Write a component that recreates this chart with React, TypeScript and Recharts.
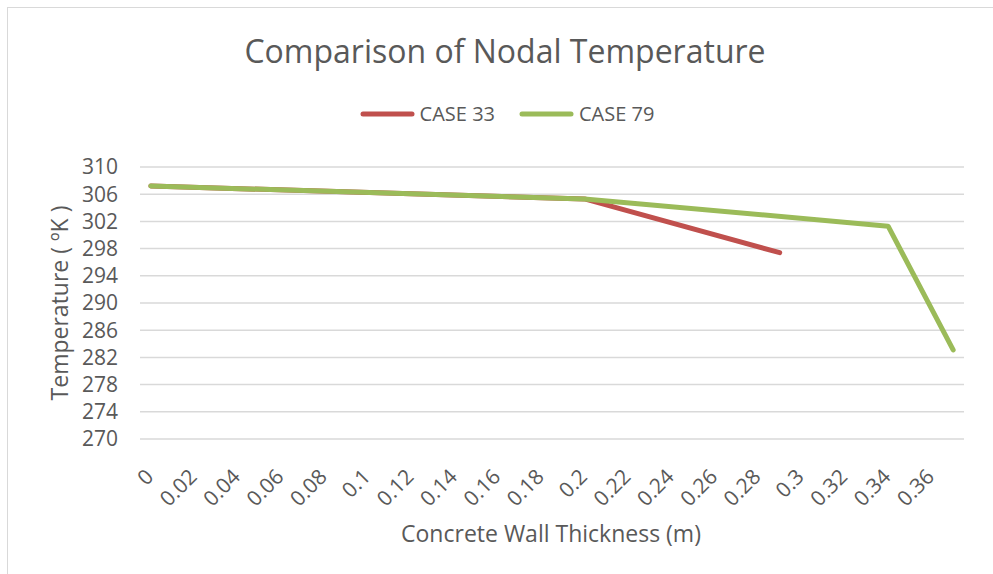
import { LineChart, Line, XAxis, YAxis, CartesianGrid, Label } from 'recharts'

// Wall thickness (m) and nodal temperature (K)
const xTicks = [0, 0.02, 0.04, 0.06, 0.08, 0.1, 0.12, 0.14, 0.16, 0.18, 0.2, 0.22, 0.24, 0.26, 0.28, 0.3, 0.32, 0.34, 0.36]
const yTicks = [270, 274, 278, 282, 286, 290, 294, 298, 302, 306, 310]

const case33X = [0, 0.2, 0.29]
const case33T = [307.2, 305.3, 297.4]

const case79X = [0, 0.2, 0.34, 0.37]
const case79T = [307.2, 305.3, 301.3, 283.1]

const toPoints = (xs: number[], ts: number[]) => xs.map((x, i) => ({ x, t: ts[i] }))

const series = [
  { name: 'CASE 33', color: '#C0504D', data: toPoints(case33X, case33T) },
  { name: 'CASE 79', color: '#9BBB59', data: toPoints(case79X, case79T) },
]

const TEXT = '#595959'
const FONT = '"Open Sans", sans-serif'

const XTick = ({ x, y, payload }: { x?: number; y?: number; payload?: { value: number } }) => {
  const tx = (x ?? 0) + 4
  const ty = (y ?? 0) + 31
  return (
    <text
      x={tx}
      y={ty}
      transform={`rotate(-45 ${tx} ${ty})`}
      textAnchor="end"
      fill={TEXT}
      fontSize={21}
      fontFamily={FONT}
    >
      {String(payload?.value)}
    </text>
  )
}

export default function App() {
  return (
    <div style={{ position: 'absolute', left: 0, top: 0, width: 993, height: 574, background: '#fff', fontFamily: FONT }}>
      <div
        style={{
          position: 'absolute', left: 7, top: 7, right: 0, bottom: 0,
          borderLeft: '1px solid #D9D9D9', borderTop: '1px solid #D9D9D9',
        }}
      />
      <svg width={993} height={140} style={{ position: 'absolute', left: 0, top: 0 }}>
        <text x={505} y={63} textAnchor="middle" fill={TEXT} fontSize={32} fontFamily={FONT}>
          Comparison of Nodal Temperature
        </text>
      </svg>

      {/* legend */}
      <div
        style={{
          position: 'absolute', left: 0, top: 101, width: 1014, display: 'flex',
          justifyContent: 'center', gap: 24, color: TEXT, fontSize: 20, lineHeight: '26px',
        }}
      >
        {series.map((s) => (
          <div key={s.name} style={{ display: 'flex', alignItems: 'center', gap: 5 }}>
            <svg width={55} height={8}>
              <line x1={3} y1={4} x2={52} y2={4} stroke={s.color} strokeWidth={5} strokeLinecap="round" />
            </svg>
            <span>{s.name}</span>
          </div>
        ))}
      </div>

      <div style={{ position: 'absolute', left: 0, top: 0 }}>
        <LineChart width={993} height={574} margin={{ top: 167, right: 29, bottom: 0, left: 60 }}>
          <CartesianGrid vertical={false} stroke="#D9D9D9" strokeWidth={1.5} />
          <XAxis
            type="number"
            dataKey="x"
            domain={[-0.005, 0.375]}
            ticks={xTicks}
            interval={0}
            allowDataOverflow
            axisLine={false}
            tickLine={false}
            height={135}
            tick={<XTick />}
          >
            <Label
              content={() => (
                <text x={551} y={542} textAnchor="middle" fill={TEXT} fontSize={23} fontFamily={FONT}>
                  Concrete Wall Thickness (m)
                </text>
              )}
            />
          </XAxis>
          <YAxis
            type="number"
            domain={[270, 310]}
            ticks={yTicks}
            interval={0}
            axisLine={false}
            tickLine={false}
            tickSize={0}
            tickMargin={22}
            width={80}
            tick={{ fill: TEXT, fontSize: 21, fontFamily: FONT }}
          >
            <Label
              content={() => (
                <text
                  x={68}
                  y={303}
                  transform="rotate(-90 68 303)"
                  textAnchor="middle"
                  fill={TEXT}
                  fontSize={23}
                  fontFamily={FONT}
                >
                  Temperature ( ºK )
                </text>
              )}
            />
          </YAxis>
          {series.map((s) => (
            <Line
              key={s.name}
              data={s.data}
              dataKey="t"
              name={s.name}
              type="linear"
              stroke={s.color}
              strokeWidth={5}
              strokeLinecap="round"
              strokeLinejoin="round"
              dot={false}
              activeDot={false}
              isAnimationActive={false}
            />
          ))}
        </LineChart>
      </div>
    </div>
  )
}
